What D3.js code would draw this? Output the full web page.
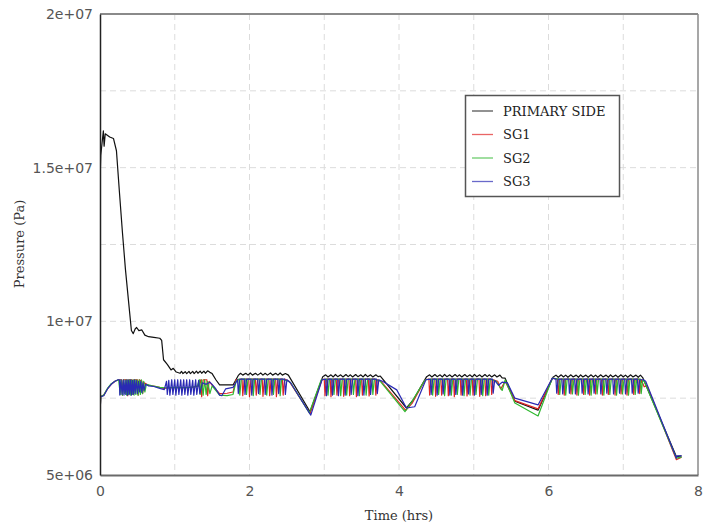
<!DOCTYPE html>
<html><head><meta charset="utf-8">
<script src="https://cdn.jsdelivr.net/npm/d3@7"></script>
<style>
html,body{margin:0;padding:0;background:#fff;}
svg{display:block;}
</style></head>
<body>
<svg id="chart" width="704" height="525"></svg>
<script>
// ---- data (time in hours, pressure in MPa; plotted in Pa) ----
const seriesNames = ["PRIMARY SIDE", "SG1", "SG2", "SG3"];
const seriesColors = ["#111111", "#e02424", "#30b830", "#2a2ab4"];
const xTickValues = [0, 2, 4, 6, 8];
const xTickLabels = ["0", "2", "4", "6", "8"];
const yTickValues = [5e6, 1e7, 1.5e7, 2e7];
const yTickLabels = ["5e+06", "1e+07", "1.5e+07", "2e+07"];
const xGrid = [1, 2, 3, 4, 5, 6, 7];
const yGrid = [7.5e6, 1e7, 1.25e7, 1.5e7, 1.75e7];

const primarySide = [
 [0,14.5],[0.01,15.4],[0.045,16.2],[0.055,15.7],[0.07,16.1],[0.13,16.0],[0.18,15.95],[0.22,15.55],
 [0.26,14.2],[0.3,12.9],[0.34,11.7],[0.38,10.7],[0.42,9.7],[0.445,9.6],[0.47,9.75],[0.49,9.8],
 [0.52,9.7],[0.56,9.72],[0.6,9.55],[0.65,9.5],[0.72,9.48],[0.8,9.45],[0.825,9.38],[0.85,8.75],
 [0.9,8.6],[0.95,8.42],[0.98,8.47],[1.02,8.35],[1.07,8.31],[1.09,8.37],[1.11,8.3],[1.14,8.36],
 [1.16,8.3],[1.19,8.37],[1.21,8.3],[1.24,8.37],[1.26,8.3],[1.29,8.38],[1.31,8.31],[1.34,8.38],
 [1.36,8.31],[1.39,8.38],[1.41,8.31],[1.44,8.39],[1.47,8.34],[1.5,8.3],[1.55,8.1],[1.6,7.93],
 [1.78,7.93],[1.85,8.24],[1.88,8.31],[1.91,8.25],[1.95,8.31],[1.98,8.25],[2.01,8.32],[2.04,8.25],
 [2.08,8.31],[2.11,8.25],[2.15,8.32],[2.18,8.25],[2.21,8.31],[2.24,8.25],[2.28,8.32],[2.31,8.25],
 [2.35,8.31],[2.38,8.25],[2.41,8.32],[2.44,8.25],[2.48,8.3],[2.52,8.25],[2.81,7.06],[2.98,8.2],
 [3.02,8.26],[3.05,8.19],[3.09,8.26],[3.12,8.19],[3.15,8.27],[3.18,8.2],[3.22,8.26],[3.25,8.19],
 [3.29,8.27],[3.32,8.2],[3.35,8.26],[3.38,8.19],[3.42,8.27],[3.45,8.2],[3.49,8.26],[3.52,8.19],
 [3.55,8.27],[3.58,8.2],[3.62,8.26],[3.65,8.19],[3.69,8.26],[3.72,8.2],[3.75,8.22],[4.1,7.18],
 [4.19,7.44],[4.37,8.2],[4.41,8.26],[4.44,8.19],[4.48,8.27],[4.51,8.2],[4.55,8.26],[4.58,8.19],
 [4.61,8.27],[4.64,8.2],[4.68,8.26],[4.71,8.19],[4.75,8.27],[4.78,8.2],[4.81,8.26],[4.84,8.19],
 [4.88,8.27],[4.91,8.2],[4.95,8.26],[4.98,8.19],[5.01,8.27],[5.04,8.2],[5.08,8.26],[5.11,8.19],
 [5.15,8.27],[5.18,8.2],[5.21,8.26],[5.24,8.19],[5.28,8.26],[5.31,8.19],[5.35,8.25],[5.38,8.16],
 [5.42,8.15],[5.55,7.4],[5.86,7.11],[6.06,8.18],[6.1,8.25],[6.13,8.18],[6.17,8.26],[6.2,8.19],
 [6.23,8.25],[6.26,8.18],[6.3,8.26],[6.33,8.19],[6.37,8.25],[6.4,8.18],[6.43,8.26],[6.46,8.19],
 [6.5,8.25],[6.53,8.18],[6.57,8.26],[6.6,8.19],[6.63,8.25],[6.66,8.18],[6.7,8.26],[6.73,8.19],
 [6.77,8.25],[6.8,8.18],[6.83,8.26],[6.86,8.19],[6.9,8.25],[6.93,8.18],[6.97,8.26],[7.0,8.19],
 [7.03,8.25],[7.06,8.18],[7.1,8.26],[7.13,8.19],[7.17,8.25],[7.2,8.18],[7.23,8.25],[7.26,8.17],
 [7.71,5.6],[7.78,5.62]
];

const sg1 = [
 [0,7.0],[0.01,7.55],[0.05,7.6],[0.1,7.8],[0.15,7.95],[0.2,8.05],[0.25,8.1],[0.29,8.1],[0.3,7.6],
 [0.315,8.1],[0.36,8.1],[0.37,7.58],[0.385,8.1],[0.43,8.1],[0.44,7.62],[0.455,8.1],[0.5,8.1],
 [0.51,7.6],[0.525,8.1],[0.56,8.05],[0.57,7.65],[0.59,8.0],[0.65,7.92],[0.75,7.88],[0.85,7.82],
 [0.95,7.84],[1.05,7.85],[1.15,7.84],[1.25,7.86],[1.32,7.9],[1.35,8.1],[1.36,7.55],[1.38,8.1],
 [1.43,8.1],[1.44,7.58],[1.46,8.05],[1.5,7.92],[1.6,7.65],[1.7,7.66],[1.78,7.7],[1.82,8.1],
 [1.9,8.12],[1.91,7.58],[1.93,8.12],[1.99,8.12],[2.0,7.55],[2.02,8.12],[2.08,8.12],[2.09,7.6],
 [2.11,8.12],[2.17,8.12],[2.18,7.56],[2.2,8.12],[2.26,8.12],[2.27,7.58],[2.29,8.12],[2.35,8.12],
 [2.36,7.55],[2.38,8.12],[2.44,8.12],[2.45,7.6],[2.47,8.12],[2.53,8.05],[2.81,7.0],[2.97,8.1],
 [3.0,8.12],[3.01,7.58],[3.03,8.12],[3.08,8.12],[3.09,7.55],[3.11,8.12],[3.16,8.12],[3.17,7.6],
 [3.19,8.12],[3.25,8.12],[3.26,7.56],[3.28,8.12],[3.33,8.12],[3.34,7.58],[3.36,8.12],[3.42,8.12],
 [3.43,7.55],[3.45,8.12],[3.5,8.12],[3.51,7.6],[3.53,8.12],[3.59,8.12],[3.6,7.57],[3.62,8.12],
 [3.68,8.12],[3.69,7.6],[3.71,8.1],[3.76,8.05],[4.09,7.1],[4.18,7.35],[4.35,8.1],[4.4,8.12],
 [4.41,7.6],[4.43,8.12],[4.48,8.12],[4.49,7.56],[4.51,8.12],[4.56,8.12],[4.57,7.6],[4.59,8.12],
 [4.65,8.12],[4.66,7.58],[4.68,8.12],[4.73,8.12],[4.74,7.55],[4.76,8.12],[4.82,8.12],[4.83,7.6],
 [4.85,8.12],[4.9,8.12],[4.91,7.57],[4.93,8.12],[4.98,8.12],[4.99,7.6],[5.01,8.12],[5.07,8.12],
 [5.08,7.56],[5.1,8.12],[5.15,8.12],[5.16,7.58],[5.18,8.12],[5.23,8.12],[5.24,7.62],[5.26,8.1],
 [5.32,8.05],[5.36,7.8],[5.42,8.05],[5.55,7.42],[5.86,7.15],[6.05,8.15],[6.12,8.12],[6.13,7.62],
 [6.15,8.12],[6.2,8.12],[6.21,7.6],[6.23,8.12],[6.29,8.12],[6.3,7.64],[6.32,8.12],[6.37,8.12],
 [6.38,7.6],[6.4,8.12],[6.46,8.12],[6.47,7.62],[6.49,8.12],[6.54,8.12],[6.55,7.6],[6.57,8.12],
 [6.62,8.12],[6.63,7.64],[6.65,8.12],[6.71,8.12],[6.72,7.6],[6.74,8.12],[6.79,8.12],[6.8,7.62],
 [6.82,8.12],[6.88,8.12],[6.89,7.6],[6.91,8.12],[6.96,8.12],[6.97,7.64],[6.99,8.12],[7.04,8.12],
 [7.05,7.6],[7.07,8.12],[7.13,8.12],[7.14,7.62],[7.16,8.12],[7.21,8.12],[7.22,7.65],[7.24,8.1],
 [7.28,7.87],[7.32,7.9],[7.71,5.5],[7.78,5.58]
];

const sg2 = [
 [0,7.0],[0.01,7.55],[0.05,7.6],[0.1,7.82],[0.15,7.97],[0.2,8.05],[0.25,8.1],[0.27,7.62],
 [0.285,8.1],[0.3,7.6],[0.315,8.1],[0.33,7.65],[0.345,8.1],[0.355,7.6],[0.37,8.1],[0.38,7.62],
 [0.395,8.1],[0.405,7.6],[0.42,8.1],[0.43,7.62],[0.445,8.1],[0.455,7.6],[0.47,8.1],[0.48,7.62],
 [0.495,8.1],[0.51,7.6],[0.525,8.1],[0.54,7.62],[0.555,8.1],[0.57,7.65],[0.585,8.05],[0.6,7.7],
 [0.62,7.95],[0.7,7.9],[0.8,7.85],[0.9,7.83],[1.0,7.85],[1.1,7.84],[1.2,7.85],[1.3,7.88],
 [1.33,8.1],[1.34,7.62],[1.36,8.1],[1.38,7.6],[1.4,8.1],[1.42,7.62],[1.44,8.05],[1.47,7.65],
 [1.5,7.9],[1.6,7.6],[1.7,7.58],[1.78,7.62],[1.82,8.05],[1.86,8.12],[1.87,7.6],[1.89,8.12],
 [1.95,8.12],[1.96,7.62],[1.98,8.12],[2.04,8.12],[2.05,7.58],[2.07,8.12],[2.13,8.12],[2.14,7.62],
 [2.16,8.12],[2.22,8.12],[2.23,7.6],[2.25,8.12],[2.31,8.12],[2.32,7.62],[2.34,8.12],[2.4,8.12],
 [2.41,7.58],[2.43,8.12],[2.52,8.05],[2.55,8.0],[2.8,7.02],[2.96,8.1],[3.04,8.12],[3.05,7.6],
 [3.07,8.12],[3.12,8.12],[3.13,7.62],[3.15,8.12],[3.21,8.12],[3.22,7.58],[3.24,8.12],[3.29,8.12],
 [3.3,7.6],[3.32,8.12],[3.38,8.12],[3.39,7.62],[3.41,8.12],[3.46,8.12],[3.47,7.58],[3.49,8.12],
 [3.55,8.12],[3.56,7.6],[3.58,8.12],[3.64,8.12],[3.65,7.62],[3.67,8.12],[3.75,8.05],[4.08,7.06],
 [4.17,7.38],[4.35,8.1],[4.44,8.12],[4.45,7.6],[4.47,8.12],[4.52,8.12],[4.53,7.62],[4.55,8.12],
 [4.6,8.12],[4.61,7.58],[4.63,8.12],[4.69,8.12],[4.7,7.6],[4.72,8.12],[4.77,8.12],[4.78,7.62],
 [4.8,8.12],[4.86,8.12],[4.87,7.58],[4.89,8.12],[4.94,8.12],[4.95,7.6],[4.97,8.12],[5.02,8.12],
 [5.03,7.62],[5.05,8.12],[5.11,8.12],[5.12,7.58],[5.14,8.12],[5.19,8.12],[5.2,7.6],[5.22,8.12],
 [5.3,8.05],[5.38,7.75],[5.42,8.09],[5.55,7.34],[5.86,6.92],[6.05,8.15],[6.14,8.12],[6.15,7.62],
 [6.17,8.12],[6.22,8.12],[6.23,7.6],[6.25,8.12],[6.31,8.12],[6.32,7.64],[6.34,8.12],[6.39,8.12],
 [6.4,7.6],[6.42,8.12],[6.48,8.12],[6.49,7.62],[6.51,8.12],[6.56,8.12],[6.57,7.6],[6.59,8.12],
 [6.64,8.12],[6.65,7.64],[6.67,8.12],[6.73,8.12],[6.74,7.6],[6.76,8.12],[6.81,8.12],[6.82,7.62],
 [6.84,8.12],[6.9,8.12],[6.91,7.6],[6.93,8.12],[6.98,8.12],[6.99,7.64],[7.01,8.12],[7.06,8.12],
 [7.07,7.6],[7.09,8.12],[7.15,8.12],[7.16,7.62],[7.18,8.12],[7.23,8.12],[7.24,7.65],[7.26,8.08],
 [7.28,8.05],[7.71,5.55],[7.78,5.58]
];

const sg3 = [
 [0,6.95],[0.01,7.55],[0.05,7.58],[0.1,7.8],[0.15,7.95],[0.2,8.05],[0.24,8.1],[0.26,8.1],
 [0.265,7.6],[0.28,8.1],[0.295,7.62],[0.31,8.1],[0.32,7.6],[0.335,8.08],[0.345,7.62],[0.36,8.1],
 [0.37,7.6],[0.385,8.1],[0.395,7.63],[0.41,8.1],[0.42,7.6],[0.435,8.08],[0.445,7.62],[0.46,8.1],
 [0.47,7.65],[0.485,8.08],[0.5,7.65],[0.515,8.05],[0.53,7.7],[0.545,8.05],[0.56,7.68],[0.575,8.0],
 [0.59,7.75],[0.61,7.95],[0.65,7.9],[0.72,7.88],[0.8,7.82],[0.86,7.78],[0.89,8.05],[0.9,7.62],
 [0.92,8.08],[0.935,7.6],[0.96,8.1],[0.975,7.62],[1.0,8.1],[1.015,7.6],[1.04,8.1],[1.055,7.62],
 [1.08,8.1],[1.095,7.6],[1.12,8.1],[1.135,7.62],[1.16,8.1],[1.175,7.6],[1.2,8.1],[1.215,7.62],
 [1.24,8.08],[1.255,7.6],[1.28,8.1],[1.295,7.62],[1.32,8.08],[1.335,7.65],[1.37,8.0],[1.42,7.95],
 [1.47,8.02],[1.5,7.95],[1.55,7.8],[1.6,7.6],[1.63,7.58],[1.68,7.8],[1.78,7.85],[1.84,8.1],
 [1.85,7.65],[1.87,8.12],[1.93,8.12],[1.94,7.62],[1.96,8.12],[2.02,8.12],[2.03,7.6],[2.05,8.12],
 [2.11,8.12],[2.12,7.65],[2.14,8.12],[2.2,8.12],[2.21,7.62],[2.23,8.12],[2.29,8.12],[2.3,7.6],
 [2.32,8.12],[2.38,8.12],[2.39,7.65],[2.41,8.12],[2.47,8.12],[2.48,7.62],[2.5,8.1],[2.55,8.0],
 [2.82,6.95],[2.97,8.1],[3.02,8.12],[3.03,7.58],[3.05,8.12],[3.1,8.12],[3.11,7.6],[3.13,8.12],
 [3.18,8.12],[3.19,7.58],[3.21,8.12],[3.27,8.12],[3.28,7.6],[3.3,8.12],[3.35,8.12],[3.36,7.62],
 [3.38,8.12],[3.44,8.12],[3.45,7.58],[3.47,8.12],[3.52,8.12],[3.53,7.6],[3.55,8.12],[3.61,8.12],
 [3.62,7.62],[3.64,8.12],[3.7,8.12],[3.71,7.65],[3.73,8.1],[3.78,8.05],[3.97,7.77],[4.1,7.18],
 [4.21,7.22],[4.36,8.1],[4.42,8.12],[4.43,7.62],[4.45,8.12],[4.5,8.12],[4.51,7.6],[4.53,8.12],
 [4.58,8.12],[4.59,7.64],[4.61,8.12],[4.67,8.12],[4.68,7.6],[4.7,8.12],[4.75,8.12],[4.76,7.62],
 [4.78,8.12],[4.84,8.12],[4.85,7.6],[4.87,8.12],[4.92,8.12],[4.93,7.64],[4.95,8.12],[5.0,8.12],
 [5.01,7.6],[5.03,8.12],[5.09,8.12],[5.1,7.62],[5.12,8.12],[5.17,8.12],[5.18,7.6],[5.2,8.12],
 [5.25,8.12],[5.26,7.66],[5.28,8.08],[5.33,7.92],[5.38,8.02],[5.45,8.0],[5.55,7.5],[5.86,7.28],
 [6.05,8.15],[6.1,8.12],[6.11,7.66],[6.13,8.12],[6.18,8.12],[6.19,7.64],[6.21,8.12],[6.27,8.12],
 [6.28,7.66],[6.3,8.12],[6.35,8.12],[6.36,7.64],[6.38,8.12],[6.44,8.12],[6.45,7.66],[6.47,8.12],
 [6.52,8.12],[6.53,7.64],[6.55,8.12],[6.6,8.12],[6.61,7.66],[6.63,8.12],[6.69,8.12],[6.7,7.64],
 [6.72,8.12],[6.77,8.12],[6.78,7.66],[6.8,8.12],[6.86,8.12],[6.87,7.64],[6.89,8.12],[6.94,8.12],
 [6.95,7.66],[6.97,8.12],[7.02,8.12],[7.03,7.64],[7.05,8.12],[7.11,8.12],[7.12,7.66],[7.14,8.12],
 [7.19,8.12],[7.2,7.66],[7.22,8.1],[7.27,8.1],[7.3,8.05],[7.71,5.55],[7.72,5.62],[7.78,5.62]
];

const seriesData = [primarySide, sg1, sg2, sg3];

// ---- layout ----
const svg = d3.select("#chart");
const L = 100, R = 698, T = 14, B = 475;
const x = d3.scaleLinear().domain([0, 8]).range([L, R]);
const y = d3.scaleLinear().domain([5e6, 2e7]).range([B, T]);

// grid
svg.append("g").selectAll("line").data(xGrid).join("line")
  .attr("x1", d => x(d)).attr("x2", d => x(d)).attr("y1", T).attr("y2", B)
  .attr("stroke", "#dcdcdc").attr("stroke-width", 1).attr("stroke-dasharray", "6,4");
svg.append("g").selectAll("line").data(yGrid).join("line")
  .attr("x1", L).attr("x2", R).attr("y1", d => y(d)).attr("y2", d => y(d))
  .attr("stroke", "#dcdcdc").attr("stroke-width", 1).attr("stroke-dasharray", "6,4");

// clip
svg.append("defs").append("clipPath").attr("id", "plotclip")
  .append("rect").attr("x", L).attr("y", T).attr("width", R - L).attr("height", B - T);

const line = d3.line().x(d => x(d[0])).y(d => y(d[1] * 1e6));
const plot = svg.append("g").attr("clip-path", "url(#plotclip)");
seriesData.forEach((s, i) => {
  plot.append("path").datum(s).attr("d", line)
    .attr("fill", "none").attr("stroke", seriesColors[i])
    .attr("stroke-width", 1.2).attr("stroke-linejoin", "round");
});

// frame
svg.append("line").attr("x1", L).attr("x2", R).attr("y1", T).attr("y2", T).attr("stroke", "#8a8a8a").attr("stroke-width", 2);
svg.append("line").attr("x1", R).attr("x2", R).attr("y1", T).attr("y2", B).attr("stroke", "#8a8a8a").attr("stroke-width", 1.5);

// axes
const xAxis = d3.axisBottom(x).tickValues(xTickValues).tickFormat((d, i) => xTickLabels[i]).tickSize(0).tickPadding(11);
const yAxis = d3.axisLeft(y).tickValues(yTickValues).tickFormat((d, i) => yTickLabels[i]).tickSize(0).tickPadding(7);
const gx = svg.append("g").attr("transform", `translate(0,${B})`).call(xAxis);
gx.select(".domain").attr("stroke", "#6a6a6a").attr("stroke-width", 2);
const gy = svg.append("g").attr("transform", `translate(${L},0)`).call(yAxis);
gy.select(".domain").attr("stroke", "#222").attr("stroke-width", 1.5);
svg.selectAll(".tick text").attr("font-family", "DejaVu Sans, sans-serif").attr("font-size", 14).attr("fill", "#555");

// axis titles
svg.append("text").attr("x", (L + R) / 2).attr("y", 520).attr("text-anchor", "middle")
  .attr("font-family", "DejaVu Serif, serif").attr("font-size", 13).attr("fill", "#333").text("Time (hrs)");
svg.append("text").attr("transform", "translate(24,244) rotate(-90)").attr("text-anchor", "middle")
  .attr("font-family", "DejaVu Serif, serif").attr("font-size", 13).attr("fill", "#333").text("Pressure (Pa)");

// legend
const lg = svg.append("g");
lg.append("rect").attr("x", 465.5).attr("y", 95.5).attr("width", 154).attr("height", 101)
  .attr("fill", "#fff").attr("stroke", "#555").attr("stroke-width", 1.5);
seriesNames.forEach((n, i) => {
  const yy = 111 + i * 23.5;
  lg.append("line").attr("x1", 472).attr("x2", 493).attr("y1", yy).attr("y2", yy)
    .attr("stroke", seriesColors[i]).attr("stroke-width", 1.3).attr("opacity", 0.7);
  lg.append("text").attr("x", 503).attr("y", yy).attr("dy", "0.35em")
    .attr("font-family", "DejaVu Serif, serif").attr("font-size", 13).attr("fill", "#222").text(n);
});
</script>
</body></html>
